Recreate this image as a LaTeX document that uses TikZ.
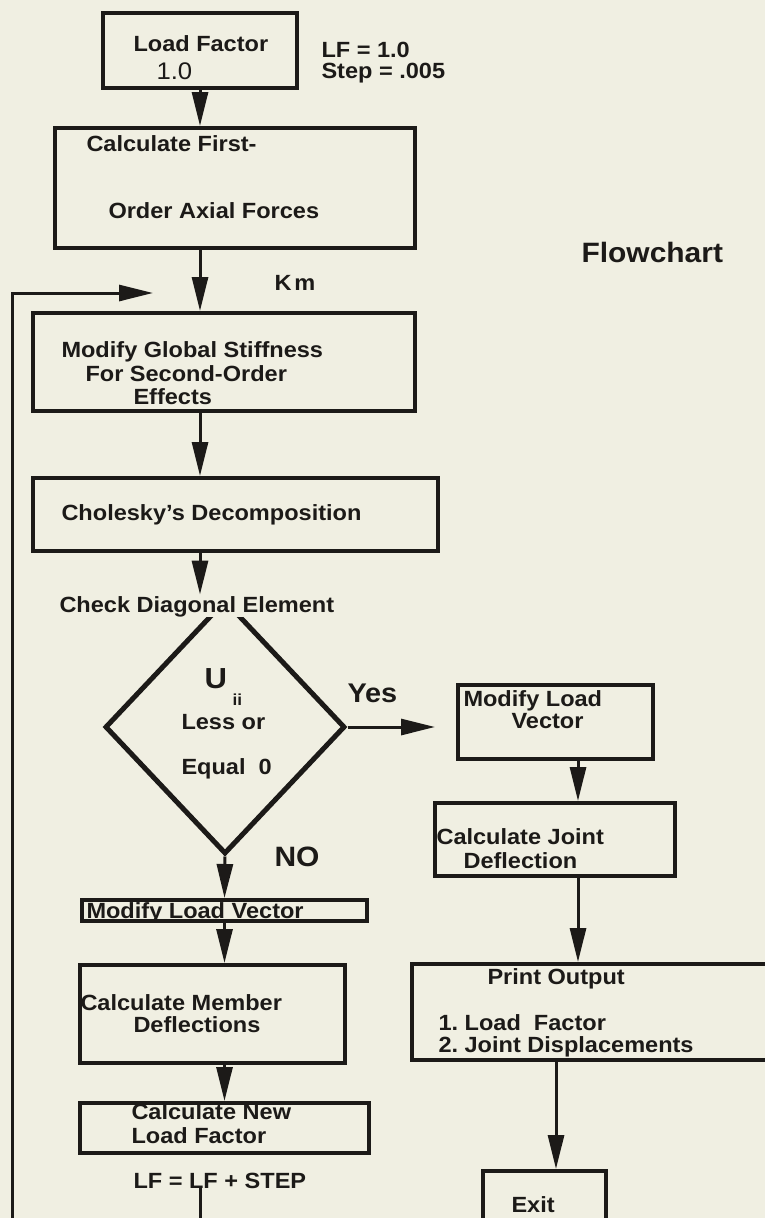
\documentclass[tikz,border=0pt]{standalone}
\usepackage{fontspec}
\setmainfont{Liberation Sans}[FakeStretch=1.07]
\usepackage{tikz}
\usetikzlibrary{arrows.meta,positioning,shapes.geometric,calc}
\definecolor{paper}{RGB}{240,239,226}
\definecolor{ink}{RGB}{28,26,24}
\newcommand\fsz[1]{\fontsize{#1}{#1}\selectfont}

\begin{document}
\frenchspacing
\begin{tikzpicture}[x=1pt,y=-1pt,>={Triangle[length=34pt,width=16pt]},font=\bfseries\fsz{22},color=ink,line width=3pt]
        \tikzstyle{block}=[rectangle,draw=ink,line width=4pt,inner sep=0pt]
        \tikzstyle{decision}=[diamond,draw=ink,line width=5pt,inner sep=0pt]
        \tikzstyle{txt}=[inner sep=0pt,anchor=base west]
        \tikzstyle{cover}=[txt,fill=paper]
        \fill[paper] (0,0) rectangle (765,1218);
        \useasboundingbox (0,0) rectangle (765,1218);
        % guide lines for the arrows
        \coordinate (spine) at (200,0);
        \coordinate (rspine) at (578,0);
        \coordinate (exitline) at (556,0);
        \coordinate (rail) at (12,0);
        \coordinate (below) at (0,1240);
        \coordinate (loopin) at (153,293);
        % boxes
        \node[block,minimum width=194pt,minimum height=75pt] (lf) at (200,50.5) {};
        \node[block,minimum width=360pt,minimum height=120pt] (first) at (235,188) {};
        \node[block,minimum width=382pt,minimum height=98pt] (stiff) at (224,362) {};
        \node[block,minimum width=405pt,minimum height=73pt] (chol) at (235.5,514.5) {};
        \node[decision,minimum width=240pt,minimum height=254pt] (dia) at (225,727) {};
        \node[block,minimum width=285pt,minimum height=21pt] (mlv) at (224.5,910.5) {};
        \node[block,minimum width=265pt,minimum height=98pt] (cmd) at (212.5,1014) {};
        \node[block,minimum width=289pt,minimum height=50pt] (cnl) at (224.5,1128) {};
        \node[block,minimum width=195pt,minimum height=74pt] (lv) at (555.5,722) {};
        \node[block,minimum width=240pt,minimum height=73pt] (jd) at (555,839.5) {};
        \node[block,minimum width=368pt,minimum height=96pt] (out) at (596,1012) {};
        \node[block,minimum width=123pt,minimum height=68pt] (exit) at (544.5,1205) {};
        % texts
        \node[txt] (t-lf1) at (132,51) {Load Factor};
        \node[txt,font=\mdseries\fsz{24}] (t-lf2) at (155,79) {1.0};
        \node[txt] (t-init1) at (320,57) {LF = 1.0};
        \node[txt] (t-init2) at (320,78) {Step = .005};
        \node[txt] (t-first1) at (85,151) {Calculate First-};
        \node[txt] (t-first2) at (107,218) {Order Axial Forces};
        \node[txt,font=\bfseries\fsz{28}] (t-title) at (580,262) {Flowchart};
        \node[txt] (t-km) at (273,290) {K\kern3pt m};
        \node[txt] (t-stiff1) at (60,357) {Modify Global Stiffness};
        \node[txt] (t-stiff2) at (84,381) {For Second-Order};
        \node[txt] (t-stiff3) at (132,404) {Effects};
        \node[txt] (t-chol) at (60,520) {Cholesky's Decomposition};
        \node[cover] (chk) at (58,612) {Check Diagonal Element};
        \node[txt,font=\bfseries\fsz{29}] (t-u) at (203,688) {U};
        \node[txt,font=\bfseries\fsz{16}] (t-ii) at (231,705) {ii};
        \node[txt] (t-less) at (180,729) {Less or};
        \node[txt] (t-eq) at (180,774) {Equal~~0};
        \node[txt,font=\bfseries\fsz{27}] (t-yes) at (346,702) {Yes};
        \node[txt,font=\bfseries\fsz{28}] (t-no) at (273,866) {NO};
        \node[txt] (t-mlv) at (85,918) {Modify Load Vector};
        \node[txt] (t-cmd1) at (79,1010) {Calculate Member};
        \node[txt] (t-cmd2) at (132,1032) {Deflections};
        \node[txt] (t-cnl1) at (130,1119) {Calculate New};
        \node[txt] (t-cnl2) at (130,1143) {Load Factor};
        \node[txt] (lfs) at (132,1188) {LF = LF + STEP};
        \node[txt] (t-lv1) at (462,706) {Modify Load};
        \node[txt] (t-lv2) at (510,728) {Vector};
        \node[txt] (t-jd1) at (435,844) {Calculate Joint};
        \node[txt] (t-jd2) at (462,868) {Deflection};
        \node[txt] (t-out1) at (486,984) {Print Output};
        \node[txt] (t-out2) at (437,1030) {1. Load~~Factor};
        \node[txt] (t-out3) at (437,1052) {2. Joint Displacements};
        \node[txt] (t-exit) at (510,1212) {Exit};
        % connectors
        \draw[->] (lf.south) -- (spine |- first.north);
        \draw[->] (spine |- first.south) -- (spine |- stiff.north);
        \draw[->] (spine |- stiff.south) -- (spine |- chol.north);
        \draw[->] (spine |- chol.south) -- (spine |- chk.north);
        \draw[->,shorten >=21pt] (dia.east) -- (dia.east -| lv.west);
        \draw[->] (dia.south) -- (mlv.north);
        \draw[->] (mlv.south) -- (mlv.south |- cmd.north);
        \draw[->] (mlv.south |- cmd.south) -- (mlv.south |- cnl.north);
        \draw[->] (spine |- lfs.base) -- (spine |- below) -| (rail |- loopin) -- (loopin);
        \draw[->] (rspine |- lv.south) -- (rspine |- jd.north);
        \draw[->] (rspine |- jd.south) -- (rspine |- out.north);
        \draw[->] (exitline |- out.south) -- (exitline |- exit.north);
\end{tikzpicture}
\end{document}
